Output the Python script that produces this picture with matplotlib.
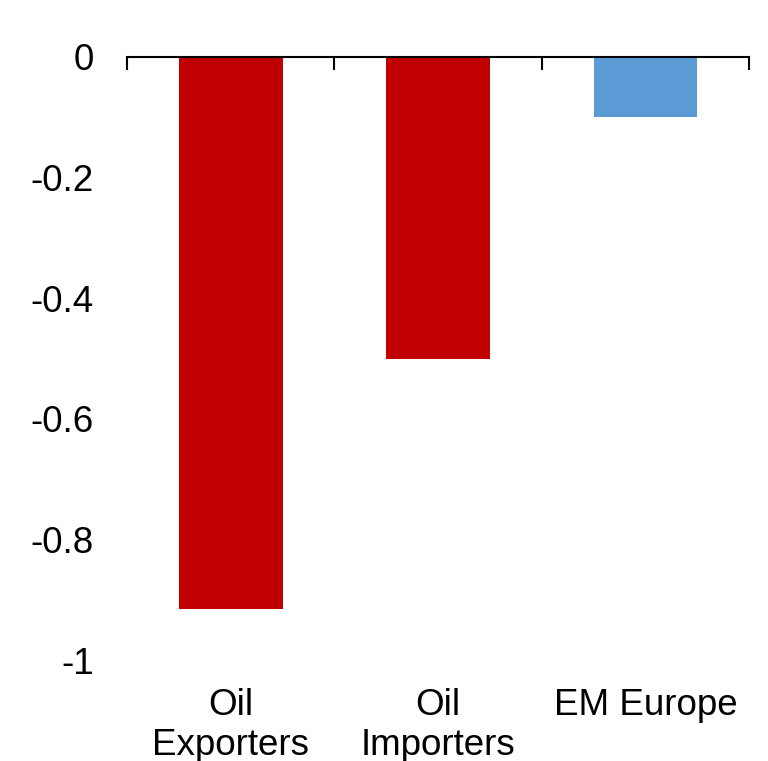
import matplotlib.pyplot as plt
import numpy as np

plt.rcParams['font.family'] = ['Liberation Sans', 'DejaVu Sans']

categories = ["Oil\nExporters", "Oil\nImporters", "EM Europe"]
values = [-0.915, -0.50, -0.10]
colors = ["#C00000", "#C00000", "#5B9BD5"]
y_ticks = [0, -0.2, -0.4, -0.6, -0.8, -1]
y_labels = ["0", "-0.2", "-0.4", "-0.6", "-0.8", "-1"]

fig = plt.figure(figsize=(7.68, 7.61), dpi=100)
ax = fig.add_axes([0.1654, 0.1327, 0.810, 0.7924])

x = np.arange(len(categories))
ax.bar(x, values, width=0.5, color=colors)

ax.set_xlim(-0.5, len(categories) - 0.5)
ax.set_ylim(-1, 0)

for side in ["left", "right", "bottom"]:
    ax.spines[side].set_visible(False)
ax.spines["top"].set_linewidth(1.5)

ax.set_yticks(y_ticks)
ax.set_yticklabels(y_labels, fontsize=26.5)
ax.tick_params(axis="y", length=0, pad=24)

# category labels at bottom, tick marks at category boundaries on the zero line
ax.set_xticks(x)
ax.set_xticklabels(categories, fontsize=26.5, linespacing=1.2)
ax.tick_params(axis="x", which="major", length=0, pad=20)
ax.set_xticks(np.arange(len(categories) + 1) - 0.5, minor=True)
ax.tick_params(axis="x", which="minor", top=True, bottom=False,
               direction="in", length=9, width=1.5)

plt.savefig("out.png", dpi=100)
